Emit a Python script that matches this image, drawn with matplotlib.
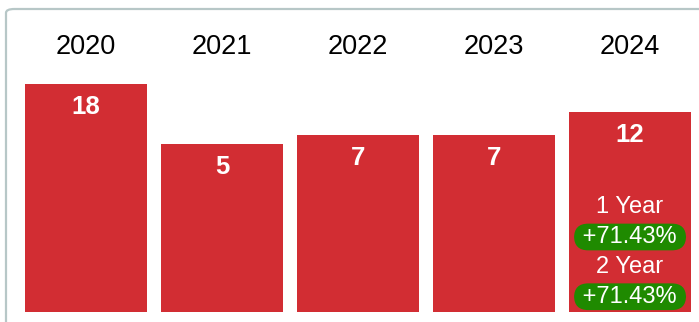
import matplotlib
matplotlib.use('Agg')
import matplotlib.pyplot as plt
from matplotlib.patches import FancyBboxPatch
from matplotlib.transforms import blended_transform_factory

plt.rcParams['font.family'] = ['Liberation Sans', 'DejaVu Sans']

years = ['2020', '2021', '2022', '2023', '2024']
counts = [18, 5, 7, 7, 12]

RED = '#d22d33'
GREEN = '#1f8a00'
base = -31.3  # bars start below zero so small values still get tall bars


def pct_change(new, old):
    return (new - old) / old * 100


fig = plt.figure(figsize=(6.99, 3.22), dpi=100)
ax = fig.add_axes([0, 10 / 322, 1, 312 / 322])
ax.set_xlim(-0.632, 4.507)
ax.set_ylim(base, 36.3)
ax.axis('off')

x = list(range(len(years)))
heights = [c - base for c in counts]
ax.bar(x, heights, bottom=base, width=0.897, color=RED)

# year headings across the top
trans = blended_transform_factory(ax.transData, fig.transFigure)
for xi, yr in zip(x, years):
    ax.text(xi, 1 - 47.5 / 322, yr, transform=trans, ha='center', va='center',
            fontsize=19.5, color='black')

# values inside the bars
for xi, c in zip(x, counts):
    ax.annotate(str(c), (xi, c), xytext=(0, -16.5), textcoords='offset points',
                ha='center', va='center', fontsize=18.5, fontweight='bold', color='white')

# change vs 1 and 2 years back, on the last bar
last = len(counts) - 1
chg1 = pct_change(counts[last], counts[last - 1])
chg2 = pct_change(counts[last], counts[last - 2])
rows = [('1 Year', 75.5, False), ('%+.2f%%' % chg1, 54, True),
        ('2 Year', 32.5, False), ('%+.2f%%' % chg2, 11, True)]
for txt, off, boxed in rows:
    kw = {}
    if boxed:
        txt = ' ' + txt + ' '
        kw['bbox'] = dict(boxstyle='round,pad=0.1,rounding_size=0.6', fc=GREEN, ec='none')
    ax.annotate(txt, (last, base), xytext=(0, off), textcoords='offset points',
                ha='center', va='center', fontsize=17, color='white', **kw)

# card border
card = FancyBboxPatch((6 / 699, -0.2), 1.2, 1.2 - 9 / 322, transform=fig.transFigure,
                      boxstyle='round,pad=0,rounding_size=0.012', fc='none',
                      ec='#b7c7c7', lw=1.6, clip_on=False)
fig.patches.append(card)

fig.savefig('out.png', dpi=100)
